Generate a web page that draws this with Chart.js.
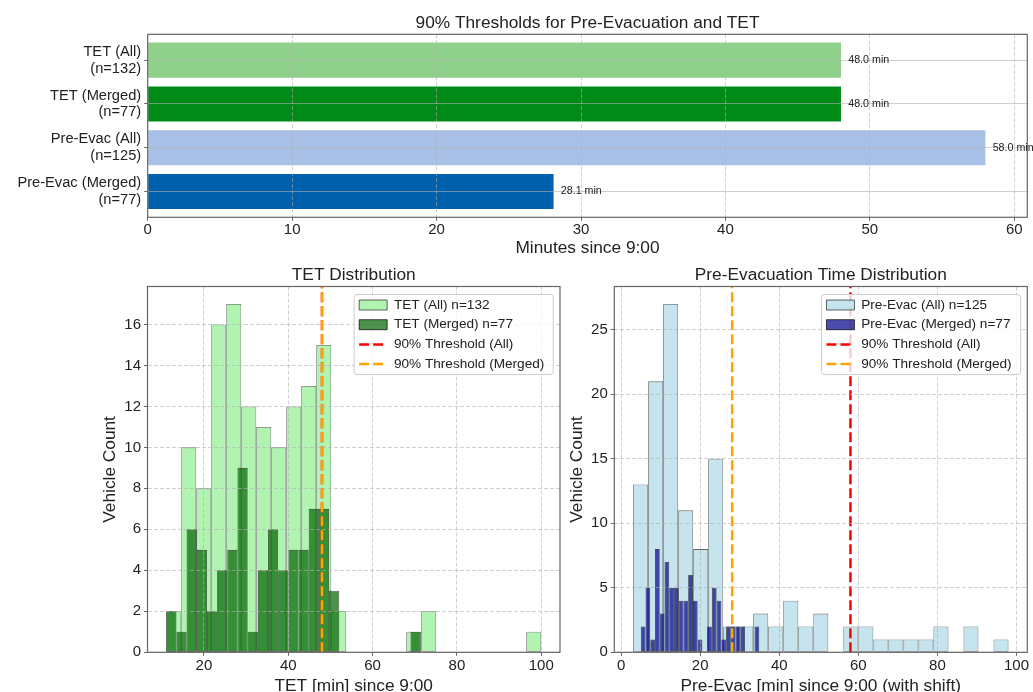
<!DOCTYPE html>
<html><head><meta charset="utf-8">
<script src="https://cdn.jsdelivr.net/npm/chart.js@4"></script>
<style>
html,body{margin:0;padding:0;background:#fff;overflow:hidden;width:1033px;height:692px}
canvas{position:absolute;left:0;top:0}
</style></head><body>
<canvas id="summary" width="1033" height="700"></canvas>
<canvas id="tet" width="1033" height="700"></canvas>
<canvas id="pre" width="1033" height="700"></canvas>
<script>
// ---------------- data ----------------
const summaryLabels = ['TET (All)', 'TET (Merged)', 'Pre-Evac (All)', 'Pre-Evac (Merged)'];
const summaryN = [132, 77, 125, 77];
const thresholds = [48.0, 48.0, 58.0, 28.1];
const summaryXTicks = [0, 10, 20, 30, 40, 50, 60];

const tetBinStart = 11.06;
const tetAllBinWidth = 3.5576;
const tetMergedBinWidth = 2.4136;
const tetAllCounts = [2, 10, 8, 16, 17, 12, 11, 10, 12, 13, 15, 2, 0, 0, 0, 0, 1, 2, 0, 0, 0, 0, 0, 0, 1];
const tetMergedCounts = [2, 1, 6, 5, 2, 4, 5, 9, 1, 4, 6, 4, 5, 5, 7, 7, 3, 0, 0, 0, 0, 0, 0, 0, 1];
const tetXTicks = [20, 40, 60, 80, 100];
const tetYTicks = [0, 2, 4, 6, 8, 10, 12, 14, 16];

const preAllBinStart = 3.04;
const preAllBinWidth = 3.797;
const preMergedBinStart = 4.99;
const preMergedBinWidth = 1.198;
const preAllCounts = [13, 21, 27, 11, 8, 15, 2, 2, 3, 2, 4, 2, 3, 0, 2, 2, 1, 1, 1, 1, 2, 0, 2, 0, 1];
const preMergedCounts = [2, 5, 1, 8, 3, 7, 5, 5, 4, 4, 6, 4, 1, 0, 2, 5, 4, 1, 2, 2, 2, 2, 0, 0, 2];
const preXTicks = [0, 20, 40, 60, 80, 100];
const preYTicks = [0, 5, 10, 15, 20, 25];

// ---------------- styles ----------------
const FONT = '"Liberation Sans", Arial, Helvetica, sans-serif';
Chart.defaults.font.family = FONT;
Chart.defaults.color = '#222';
const GRID = 'rgba(176,176,176,0.6)';
const SPINE = '#666';
const TXT = '#222';
const LEGEND_FS = 13.6;
const summaryColors = ['#8fd18a', '#008a18', '#a8c0e6', '#0060ac'];

// ---------------- plugins ----------------
const frame = {
  id: 'frame',
  afterDraw(chart) {
    const {ctx, chartArea: a} = chart;
    ctx.save();
    ctx.strokeStyle = SPINE; ctx.lineWidth = 1.2;
    ctx.strokeRect(a.left, a.top, a.right - a.left, a.bottom - a.top);
    ctx.restore();
  }
};

const valueLabels = {
  id: 'valueLabels',
  afterDraw(chart) {
    const ctx = chart.ctx, xs = chart.scales.x, ys = chart.scales.y;
    ctx.save();
    ctx.font = '10.7px ' + FONT; ctx.fillStyle = TXT;
    ctx.textBaseline = 'middle'; ctx.textAlign = 'left';
    chart.data.datasets[0].data.forEach(p => {
      ctx.fillText(p.x.toFixed(1) + ' min', xs.getPixelForValue(p.x + 0.5), ys.getPixelForValue(p.y));
    });
    ctx.restore();
  }
};

function roundRectPath(ctx, x, y, w, h, r) {
  ctx.moveTo(x + r, y);
  ctx.lineTo(x + w - r, y); ctx.arcTo(x + w, y, x + w, y + r, r);
  ctx.lineTo(x + w, y + h - r); ctx.arcTo(x + w, y + h, x + w - r, y + h, r);
  ctx.lineTo(x + r, y + h); ctx.arcTo(x, y + h, x, y + h - r, r);
  ctx.lineTo(x, y + r); ctx.arcTo(x, y, x + r, y, r);
  ctx.closePath();
}

const insideLegend = {
  id: 'insideLegend',
  beforeLayout(chart) {
    const lg = chart.legend;
    if (!lg || lg.$inside) return;
    lg.$inside = true;
    lg._layers = () => [{
      z: 20,
      draw: () => {
        const f = lg.$frame;
        if (!f) return;
        const ctx = chart.ctx;
        ctx.save();
        ctx.beginPath();
        roundRectPath(ctx, f.x, f.y, f.w, f.h, 3);
        ctx.fillStyle = 'rgba(255,255,255,0.8)'; ctx.fill();
        ctx.strokeStyle = '#cccccc'; ctx.lineWidth = 1; ctx.stroke();
        ctx.restore();
        lg.draw(chart.chartArea);
      }
    }];
  },
  afterLayout(chart) {
    const lg = chart.legend;
    if (!lg || !lg.legendItems) return;
    const ca = chart.chartArea;
    const pad = lg.options.labels.padding;
    const n = lg.legendItems.length;
    const colW = lg.columnSizes && lg.columnSizes[0] ? lg.columnSizes[0].width : 160;
    const w = colW + 14;
    const row = LEGEND_FS + pad;
    const h = (n - 1) * row + 21;
    const x = ca.right - 6.7 - w, y = ca.top + 8;
    lg.$frame = {x, y, w, h};
    lg.left = x + 5 - pad;
    lg.top = y + 10.5 - LEGEND_FS / 2 - pad;
    lg.right = ca.right; lg.bottom = ca.bottom;
    lg.width = lg.right - lg.left; lg.height = lg.bottom - lg.top;
  }
};

function legendOptions() {
  return {
    display: true, position: 'chartArea', align: 'start',
    labels: {
      usePointStyle: true, pointStyleWidth: 28, boxWidth: 28, boxHeight: 10,
      padding: 6.1, font: {size: LEGEND_FS}, color: TXT,
      generateLabels: chart => chart.data.datasets.map((ds, i) => ({
        text: ds.label, datasetIndex: i, hidden: false, fontColor: TXT,
        fillStyle: ds.type === 'line' ? 'rgba(0,0,0,0)' : ds.backgroundColor,
        strokeStyle: ds.borderColor,
        lineWidth: ds.type === 'line' ? ds.borderWidth : 1,
        lineDash: ds.borderDash || [],
        pointStyle: ds.type === 'line' ? 'line' : 'rect'
      }))
    }
  };
}

function histData(start, width, counts) {
  return counts.map((c, i) => ({x: start + width * (i + 0.5), y: c === 0 ? null : c}));
}

function setTicks(list) {
  return s => { s.ticks = list.map(v => ({value: v})); };
}

function tickFont() { return {size: 15, lineHeight: 1}; }
function titleFont() { return {size: 17.3, lineHeight: 1, weight: 'normal'}; }

function histChart(id, cfg) {
  const yMax = cfg.yMax;
  return new Chart(document.getElementById(id), {
    type: 'bar',
    data: {
      datasets: [
        {
          label: cfg.allLabel, data: histData(cfg.allStart, cfg.allWidth, cfg.allCounts),
          xAxisID: 'x', backgroundColor: cfg.allColor, borderColor: 'rgba(0,0,0,0.6)',
          borderWidth: 0.8, borderSkipped: false, inflateAmount: 0, grouped: false,
          barPercentage: 1, categoryPercentage: 1, order: 3
        },
        {
          label: cfg.mergedLabel, data: histData(cfg.mergedStart, cfg.mergedWidth, cfg.mergedCounts),
          xAxisID: 'x2', backgroundColor: cfg.mergedColor, borderColor: 'rgba(0,0,0,0.7)',
          borderWidth: 0.8, borderSkipped: false, inflateAmount: 0, grouped: false,
          barPercentage: 1, categoryPercentage: 1, order: 2
        },
        {
          type: 'line', label: '90% Threshold (All)', xAxisID: 'x',
          data: [{x: cfg.thrAll, y: 0}, {x: cfg.thrAll, y: yMax}],
          borderColor: '#ff0000', borderWidth: 2.5, borderDash: [10, 4],
          pointRadius: 0, fill: false, order: 1
        },
        {
          type: 'line', label: '90% Threshold (Merged)', xAxisID: 'x',
          data: [{x: cfg.thrMerged, y: 0}, {x: cfg.thrMerged, y: yMax}],
          borderColor: '#ffa500', borderWidth: 2.5, borderDash: [10, 4],
          pointRadius: 0, fill: false, order: 0
        }
      ]
    },
    options: {
      responsive: false, animation: false, devicePixelRatio: 1,
      layout: {padding: cfg.padding},
      plugins: {
        tooltip: {enabled: false},
        legend: legendOptions(),
        title: {display: true, text: cfg.title, fullSize: false, font: titleFont(), color: TXT,
                padding: {top: 16.55, bottom: 2.65}}
      },
      scales: {
        x: {
          type: 'linear', position: 'bottom', min: cfg.xMin, max: cfg.xMax, offset: false,
          afterBuildTicks: setTicks(cfg.xTicks), afterFit: s => { s.height = 43; },
          ticks: {font: tickFont(), color: TXT, padding: 3, maxRotation: 0, autoSkip: false},
          grid: {z: 1, offset: false, color: GRID, lineWidth: 1, tickLength: 3.5, tickColor: SPINE, tickWidth: 1},
          border: {display: false, dash: [4, 2]},
          title: {display: true, text: cfg.xTitle, font: titleFont(), color: TXT, padding: {top: 0, bottom: 0}}
        },
        x2: {
          type: 'linear', axis: 'x', position: 'bottom', display: false, offset: false,
          min: cfg.xMin, max: cfg.xMax, grid: {offset: false},
          afterBuildTicks: setTicks(cfg.xTicks)
        },
        y: {
          type: 'linear', position: 'left', min: 0, max: yMax,
          afterBuildTicks: setTicks(cfg.yTicks), afterFit: s => { s.width = 60; },
          ticks: {font: tickFont(), color: TXT, padding: 3, autoSkip: false},
          grid: {z: 1, color: GRID, lineWidth: 1, tickLength: 3.5, tickColor: SPINE, tickWidth: 1},
          border: {display: false, dash: [4, 2]},
          title: {display: true, text: 'Vehicle Count', font: titleFont(), color: TXT, padding: {top: cfg.yTitlePad, bottom: 0}}
        }
      }
    },
    plugins: [insideLegend, frame]
  });
}

// ---------------- top summary chart ----------------
new Chart(document.getElementById('summary'), {
  type: 'bar',
  data: {
    datasets: [{
      data: thresholds.map((v, i) => ({x: v, y: i})),
      backgroundColor: summaryColors, borderWidth: 0,
      barPercentage: 0.8, categoryPercentage: 1
    }]
  },
  options: {
    indexAxis: 'y', responsive: false, animation: false, devicePixelRatio: 1,
    layout: {padding: {left: 7.7, right: 5.7, top: 0, bottom: 442.7}},
    plugins: {
      legend: {display: false}, tooltip: {enabled: false},
      title: {display: true, text: '90% Thresholds for Pre-Evacuation and TET', fullSize: false,
              font: titleFont(), color: TXT, padding: {top: 14.35, bottom: 2.65}}
    },
    scales: {
      x: {
        type: 'linear', position: 'bottom', min: 0, max: 60.9, offset: false,
        afterBuildTicks: setTicks(summaryXTicks), afterFit: s => { s.height = 40; },
        ticks: {font: tickFont(), color: TXT, padding: 2, maxRotation: 0, autoSkip: false},
        grid: {z: 1, offset: false, color: GRID, lineWidth: 1, tickLength: 3.5, tickColor: SPINE, tickWidth: 1},
        border: {display: false, dash: [4, 2]},
        title: {display: true, text: 'Minutes since 9:00', font: titleFont(), color: TXT, padding: {top: 0, bottom: 0}}
      },
      y: {
        type: 'linear', position: 'left', reverse: true, min: -0.59, max: 3.59, offset: false,
        afterBuildTicks: setTicks(summaryLabels.map((_, i) => i)), afterFit: s => { s.width = 140; },
        ticks: {font: {size: 14.67, lineHeight: 1.15}, color: TXT, padding: 3, autoSkip: false,
                callback: v => [summaryLabels[v], '(n=' + summaryN[v] + ')']},
        grid: {z: 1, offset: false, color: GRID, lineWidth: 1, tickLength: 3.5, tickColor: SPINE, tickWidth: 1},
        border: {display: false}
      }
    }
  },
  plugins: [frame, valueLabels]
});

// ---------------- histograms ----------------
histChart('tet', {
  title: 'TET Distribution', xTitle: 'TET [min] since 9:00',
  allLabel: 'TET (All) n=' + summaryN[0], mergedLabel: 'TET (Merged) n=' + summaryN[1],
  allStart: tetBinStart, allWidth: tetAllBinWidth, allCounts: tetAllCounts,
  mergedStart: tetBinStart, mergedWidth: tetMergedBinWidth, mergedCounts: tetMergedCounts,
  allColor: 'rgba(144,238,144,0.7)', mergedColor: 'rgba(0,100,0,0.7)',
  thrAll: thresholds[0], thrMerged: thresholds[1],
  xMin: 6.61, xMax: 104.45, yMax: 17.85, xTicks: tetXTicks, yTicks: tetYTicks,
  padding: {left: 87.5, right: 473, top: 250, bottom: 4.7}, yTitlePad: 13.85
});

histChart('pre', {
  title: 'Pre-Evacuation Time Distribution', xTitle: 'Pre-Evac [min] since 9:00 (with shift)',
  allLabel: 'Pre-Evac (All) n=' + summaryN[2], mergedLabel: 'Pre-Evac (Merged) n=' + summaryN[3],
  allStart: preAllBinStart, allWidth: preAllBinWidth, allCounts: preAllCounts,
  mergedStart: preMergedBinStart, mergedWidth: preMergedBinWidth, mergedCounts: preMergedCounts,
  allColor: 'rgba(173,216,230,0.7)', mergedColor: 'rgba(0,0,139,0.7)',
  thrAll: thresholds[2], thrMerged: thresholds[3],
  xMin: -1.71, xMax: 102.72, yMax: 28.35, xTicks: preXTicks, yTicks: preYTicks,
  padding: {left: 554.3, right: 5.7, top: 250, bottom: 4.7}, yTitlePad: 14.55
});
</script>
</body></html>
